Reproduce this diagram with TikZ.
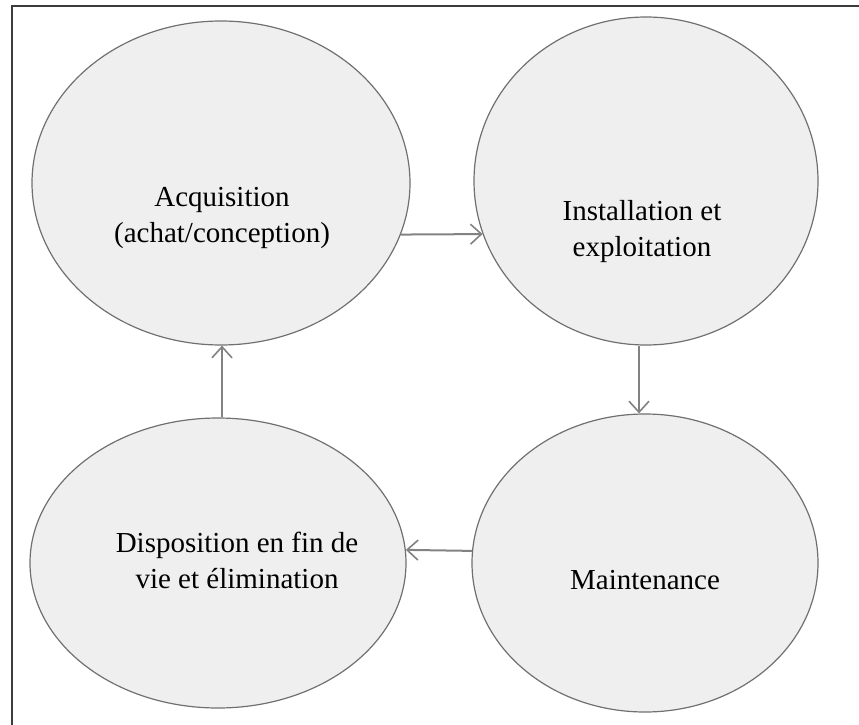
\documentclass[tikz,border=0pt]{standalone}
\usepackage{fontspec}
\setmainfont{Liberation Serif}
\usetikzlibrary{shapes.geometric,arrows.meta}
\definecolor{stagefill}{HTML}{EFEFEF}
\definecolor{stageline}{HTML}{707070}
\definecolor{flowline}{HTML}{828282}
\definecolor{frameline}{HTML}{3C3C3C}
\tikzset{
  stage/.style={ellipse, draw=stageline, fill=stagefill, line width=1.2pt, inner sep=0pt},
  stagetext/.style={align=center, font=\fontsize{29}{36}\selectfont, text=black},
  flow/.style={draw=flowline, line width=2pt, -{Straight Barb[length=11pt,width=20pt,line width=1.6pt]}},
  frame/.style={draw=frameline, line width=2pt}
}
\begin{document}
\begin{tikzpicture}[x=1pt,y=-1pt]
\useasboundingbox (0,0) rectangle (859,725);
% frame (top and left rules)
\coordinate (ftr) at (859,6);
\coordinate (ftl) at (12,6);
\coordinate (fbl) at (12,725);
\draw[frame] (ftr) -- (ftl) -- (fbl);
% the four stages
\node[stage, minimum width=378pt, minimum height=324pt] (acq) at (221,183) {};
\node[stage, minimum width=344pt, minimum height=328pt] (ins) at (646,181) {};
\node[stage, minimum width=346pt, minimum height=298pt] (mai) at (645,563) {};
\node[stage, minimum width=376pt, minimum height=290pt] (dis) at (218,563) {};
\node[stagetext] (tacq) at (222,218) {Acquisition\\(achat/conception)};
\node[stagetext] (tins) at (642,232) {Installation et\\exploitation};
\node[stagetext] (tmai) at (645,580) {Maintenance};
\node[stagetext] (tdis) at (237,560) {Disposition en fin de\\vie et élimination};
% cycle arrows
\draw[flow] (acq.-16) -- (ins.198);
\draw[flow] (ins.south -| 639,0) -- (mai.north -| 639,0);
\draw[flow] (mai.176) -- (dis.4);
\draw[flow] (dis.north -| 222,0) -- (acq.south -| 222,0);
\end{tikzpicture}
\end{document}
